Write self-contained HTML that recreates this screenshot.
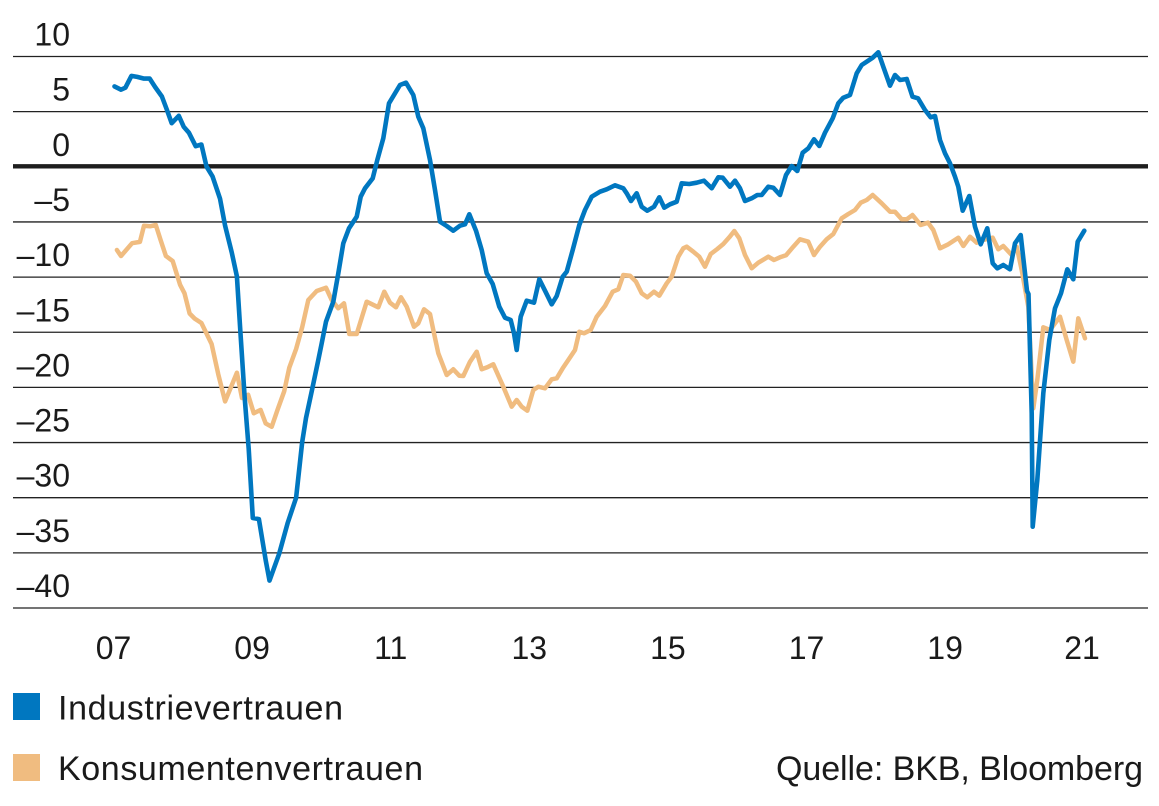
<!DOCTYPE html>
<html>
<head>
<meta charset="utf-8">
<style>
html,body{margin:0;padding:0;background:#fff;}
svg{display:block;}
text{font-family:"Liberation Sans",Arial,sans-serif;fill:#1a1a1a;}
</style>
</head>
<body>
<svg width="1159" height="806" viewBox="0 0 1159 806" xmlns="http://www.w3.org/2000/svg">
  <rect width="1159" height="806" fill="#fff"/>
  <!-- gridlines -->
  <g stroke="#222" stroke-width="1.3">
    <line x1="13" y1="56.5" x2="1148" y2="56.5"/>
    <line x1="13" y1="111.65" x2="1148" y2="111.65"/>
    <line x1="13" y1="221.95" x2="1148" y2="221.95"/>
    <line x1="13" y1="277.1" x2="1148" y2="277.1"/>
    <line x1="13" y1="332.25" x2="1148" y2="332.25"/>
    <line x1="13" y1="387.4" x2="1148" y2="387.4"/>
    <line x1="13" y1="442.55" x2="1148" y2="442.55"/>
    <line x1="13" y1="497.7" x2="1148" y2="497.7"/>
    <line x1="13" y1="552.85" x2="1148" y2="552.85"/>
    <line x1="13" y1="608" x2="1148" y2="608"/>
  </g>
  <line x1="13" y1="166.3" x2="1148" y2="166.3" stroke="#1e1e1e" stroke-width="4.3"/>

  <!-- y labels -->
  <g font-size="32" text-anchor="end">
    <text x="70" y="45.5">10</text>
    <text x="70" y="100.6">5</text>
    <text x="70" y="155.8">0</text>
    <text x="70" y="211">–5</text>
    <text x="70" y="266.1">–10</text>
    <text x="70" y="321.3">–15</text>
    <text x="70" y="376.4">–20</text>
    <text x="70" y="431.6">–25</text>
    <text x="70" y="486.7">–30</text>
    <text x="70" y="541.9">–35</text>
    <text x="70" y="597">–40</text>
  </g>

  <!-- x labels -->
  <g font-size="32" text-anchor="middle">
    <text x="113.5" y="659">07</text>
    <text x="252.1" y="659">09</text>
    <text x="390.7" y="659">11</text>
    <text x="529.3" y="659">13</text>
    <text x="667.9" y="659">15</text>
    <text x="806.5" y="659">17</text>
    <text x="945.1" y="659">19</text>
    <text x="1082" y="659">21</text>
  </g>

  <!-- orange series -->
  <polyline fill="none" stroke="#F0BC80" stroke-width="4.5" stroke-linejoin="round" stroke-linecap="round" points="116.9,250 121,256 132.1,243.2 139.9,241.9 144,225.7 150,226.3 155.8,225 160.9,240.9 165.9,256 172.7,261.1 180.1,284.8 184.5,293.3 189.6,313.5 194.7,318.6 201.4,323 211.6,344 218.3,374.4 225.1,401.4 236.9,372.7 242,398 248.1,394.7 253.8,413.3 260.6,409.9 265.7,423.4 271.7,426.8 277.5,409.9 284.2,391.3 289.3,367.6 296.1,349 302.2,327.1 308.3,300 316.7,291 326,287.7 331.7,300 338.3,308.3 344,303.3 349.3,334 356.7,334 366.7,301.7 378.3,307.3 384.3,291.7 390,302.7 396,307.3 401,297.3 406.7,306.7 414,326.7 418.3,323.3 424,309.3 430,314 433.3,330 438.3,353.3 446.7,375 453.3,369.3 459.3,375.7 463.3,376 470,361.7 476.7,351.7 481.7,369.3 487.3,367.3 493.3,364.3 503.3,386.7 511.7,406.7 516.7,400 521.7,406.7 527.3,410.7 533.3,390 538.3,386.7 545,388.3 551.7,379.3 556.7,378.3 562.7,368.3 568.3,360 575,350 579.3,331.7 584,333.3 590.7,330 596.7,316.7 605,306 612.7,291.7 618.3,289.3 623.3,275 630,275.7 636,281.7 641.7,293.3 647.3,297.3 654,291.7 659.3,295.7 666.7,283.3 671.7,276.7 678.3,256.7 683.3,248.3 686.7,246.7 693.3,251.7 699.3,256.7 705,266.7 710.7,254 717.3,249 723.3,244 729.3,237.3 734.3,231 739.3,238.3 745,255 751.7,268.3 758.3,262.7 768.3,256.7 774,260 780,257.3 786,255.3 793.3,246.7 800,239.3 808.3,241.7 814,255 820,246.7 826.7,239.3 833.3,234 841.7,218.3 848.3,214 855,210 860.7,202.7 866.7,200 872.7,195 881.7,203.3 890,211.7 895,211.7 901.7,219.3 906.7,219.3 912.5,215 920.7,225 928,222.7 933.3,230 940,248.3 948.3,244.3 958.3,237.7 963.3,246 970,236.7 976.7,242.7 983.3,240 992.7,237.7 998.3,249.3 1003.3,246 1011.7,255 1016.7,246.7 1021.7,270 1028.3,306.7 1033.3,408.3 1037.3,380 1043.3,327.3 1050,330 1060,316.7 1066.7,340 1073.3,361.7 1078.3,318.3 1085,338.3"/>

  <!-- blue series -->
  <polyline fill="none" stroke="#0077C0" stroke-width="4.6" stroke-linejoin="round" stroke-linecap="round" points="114.5,86.4 121,89.7 125.4,87.7 131.4,75.9 137.2,76.9 144,78.6 149.7,78.6 155.1,87 161.9,96.5 166.6,109 171.7,123.2 178.8,115.8 183.8,126.9 188.9,132.7 195.7,146.2 201.4,144.5 206.5,166.5 212.6,176.6 220,198.6 225.1,225.7 231.8,252.7 236.9,276.4 240.3,330.5 244.7,398 248.7,448.8 252.8,518 258.9,519.1 265.7,560.3 269.5,580.6 279.2,553.6 287.6,523.2 296.1,497.8 302.2,442 306,418 312,390 318.3,360 321.7,343.3 326,321.7 333.3,301.7 338.3,273.3 343.3,243.3 349,228.3 356.7,216.7 360.7,196.7 365,188.3 372.7,178.3 377.3,160 383.3,138.3 389,103.3 400,85 406,82.7 413.3,95 418.3,116.7 423.3,128.3 430,160 435,190 440,221.7 446.7,226 453.3,230.7 460,225.7 465,224.3 469.3,214.3 476,230.7 481.7,250 486.7,273.3 492.7,284 499.3,306.7 505,317.7 510.7,320 514,333.3 516.7,350 520.7,316.7 526.7,300.7 534,302.7 539.3,279.3 545,290.7 551.7,304.3 556.7,296 562.7,276.7 566.7,271.7 572.7,250 579.3,225 585,210 591.7,196.7 600,191.7 606.7,189.3 615,185.3 623.3,188.3 626.7,193.3 631,201 636.7,193.3 641.7,206.7 647.3,210.7 654,206.7 659.3,197.3 664.3,207.7 670,204.3 676.7,201.7 681.7,183.3 689.3,184 696.7,182.7 704,180.7 711.7,188.3 718.3,177.3 722.7,177.7 730,186.7 735,180.7 740,188.3 745,201 751.7,198.3 757.3,195 761.7,195 768.3,186.7 773.3,187.7 780,195 786,175 791.7,166 797.3,171 802.7,152.7 808.3,148.3 814,139.3 819.3,146 825,132.7 832.7,118.3 838.3,103.3 843.3,97.7 850,95 856.7,73.3 861.7,65 866.7,61.7 872.7,57.7 878.3,52.3 883.3,66.7 890,85.7 895,75 900,80 906.7,79 912.5,96.7 918,98.3 925,110 930.7,117.3 935,116 940,140 945,153.3 950,163.3 955,176.7 958.3,186.7 962.7,210.7 969.3,196 975,226.7 980.7,244.3 987.3,228.3 992.7,263.3 997.3,268.3 1003.3,265 1010,269.3 1015,243.3 1020.7,235 1027,291 1028.5,294 1031.7,413.3 1032.7,526.7 1037.3,480 1043.3,393.3 1049.3,340 1055,308.3 1061,293.3 1067.3,269.3 1073.3,279.3 1077.7,241.7 1084.3,230.7"/>

  <!-- legend -->
  <rect x="13" y="693" width="27" height="27" fill="#0077C0"/>
  <rect x="13" y="754" width="27" height="27" fill="#F0BC80"/>
  <text x="58" y="719.5" font-size="34" textLength="285">Industrievertrauen</text>
  <text x="58" y="780" font-size="34" textLength="365">Konsumentenvertrauen</text>
  <text x="776" y="780" font-size="34" textLength="367">Quelle: BKB, Bloomberg</text>
</svg>
</body>
</html>
